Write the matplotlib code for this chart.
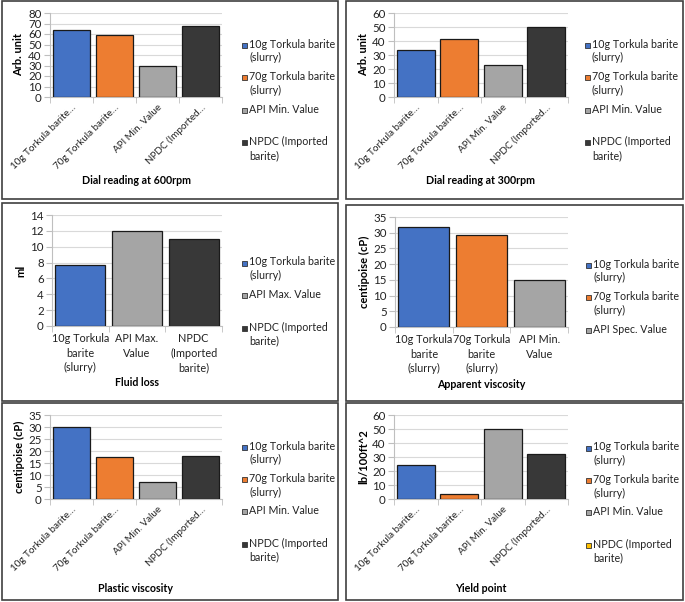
import matplotlib
matplotlib.use("Agg")
import matplotlib.pyplot as plt
from matplotlib.patches import Rectangle
import numpy as np

plt.rcParams['font.family'] = ['Lato', 'DejaVu Sans']

W, H = 685, 602

# ---------------- data ----------------
c_blue = '#4472C4'
c_orange = '#ED7D31'
c_gray = '#A5A5A5'
c_dark = '#383838'
c_yellow = '#FFC000'

p1_ticks = ['10g Torkula barite…', '70g Torkula barite…', 'API Min. Value', 'NPDC (Imported…']
p1_vals = [63.5, 59, 30, 68]
p1_legend = ['10g Torkula barite\n(slurry)', '70g Torkula barite\n(slurry)', 'API Min. Value', 'NPDC (Imported\nbarite)']

p2_ticks = ['10g Torkula barite…', '70g Torkula barite…', 'API Min. Value', 'NPDC (Imported…']
p2_vals = [33.5, 41.5, 23, 50]
p2_legend = ['10g Torkula barite\n(slurry)', '70g Torkula barite\n(slurry)', 'API Min. Value', 'NPDC (Imported\nbarite)']

p3_ticks = ['10g Torkula\nbarite\n(slurry)', 'API Max.\nValue', 'NPDC\n(Imported\nbarite)']
p3_vals = [7.7, 12, 11]
p3_legend = ['10g Torkula barite\n(slurry)', 'API Max. Value', 'NPDC (Imported\nbarite)']

p4_ticks = ['10g Torkula\nbarite\n(slurry)', '70g Torkula\nbarite\n(slurry)', 'API Min.\nValue']
p4_vals = [31.7, 29.4, 15]
p4_legend = ['10g Torkula barite\n(slurry)', '70g Torkula barite\n(slurry)', 'API Spec. Value']

p5_ticks = ['10g Torkula barite…', '70g Torkula barite…', 'API Min. Value', 'NPDC (Imported…']
p5_vals = [30, 17.5, 7, 18]
p5_legend = ['10g Torkula barite\n(slurry)', '70g Torkula barite\n(slurry)', 'API Min. Value', 'NPDC (Imported\nbarite)']

p6_ticks = ['10g Torkula barite…', '70g Torkula barite…', 'API Min. Value', 'NPDC (Imported…']
p6_vals = [24, 3.5, 50, 32]
p6_legend = ['10g Torkula barite\n(slurry)', '70g Torkula barite\n(slurry)', 'API Min. Value', 'NPDC (Imported\nbarite)']

fig = plt.figure(figsize=(W / 100, H / 100), dpi=100)


def fx(x):
    return x / W


def fy(y):
    return 1 - y / H


def add_panel(box, axbox, vals, ticks, colors, legcolors, legend, ymax, ystep,
              ylabel, xlabel, rotated, leg_x, leg_y0, leg_dy, xlabel_y, ylabel_x):
    # panel frame
    x0, y0, x1, y1 = box
    fig.add_artist(Rectangle((fx(x0), fy(y1)), fx(x1) - fx(x0), fy(y0) - fy(y1),
                             transform=fig.transFigure, fill=False,
                             edgecolor='#404040', lw=1.2))
    l, t, r, b = axbox
    ax = fig.add_axes([fx(l), fy(b), fx(r) - fx(l), fy(t) - fy(b)])
    n = len(vals)
    x = np.arange(n)
    ax.bar(x, vals, width=0.88, color=colors, edgecolor='#1a1a1a', linewidth=0.9, zorder=3)
    ax.set_xlim(-0.5, n - 0.5)
    ax.set_ylim(0, ymax)
    ax.set_yticks(np.arange(0, ymax + 0.001, ystep))
    ax.yaxis.grid(True, color='#D9D9D9', lw=0.8, zorder=0)
    for s in ['top', 'right']:
        ax.spines[s].set_visible(False)
    ax.spines['left'].set_color('#BFBFBF')
    ax.spines['bottom'].set_color('#BFBFBF')
    ax.tick_params(axis='y', labelsize=8.3, length=4, color='#BFBFBF', pad=2, labelcolor='#222222')
    ax.set_xticks(x)
    ax.set_xticks(np.arange(-0.5, n, 1.0), minor=True)
    ax.tick_params(axis='x', which='major', length=0, labelcolor='#222222')
    ax.tick_params(axis='x', which='minor', length=4, color='#BFBFBF')
    if rotated:
        ax.set_xticklabels(ticks, rotation=45, ha='right', va='top', rotation_mode='anchor',
                           fontsize=7.1)
        ax.tick_params(axis='x', which='major', pad=4)
    else:
        ax.set_xticklabels(ticks, linespacing=1.4, fontsize=7.8)
        ax.tick_params(axis='x', which='major', pad=5)
    ax.set_xlabel(xlabel, fontsize=7.7, fontweight='bold')
    ax.xaxis.set_label_coords(fx((l + r) / 2), fy(xlabel_y), transform=fig.transFigure)
    ax.set_ylabel(ylabel, fontsize=8, fontweight='bold')
    ax.yaxis.set_label_coords(fx(ylabel_x), fy((t + b) / 2), transform=fig.transFigure)
    ax.xaxis.label.set_va('center')
    ax.yaxis.label.set_va('center')
    # legend entries
    for i, (lab, c) in enumerate(zip(legend, legcolors)):
        yc = leg_y0 + i * leg_dy
        fig.add_artist(Rectangle((fx(leg_x), fy(yc + 2.5)), fx(5), 5 / H,
                                 transform=fig.transFigure, facecolor=c,
                                 edgecolor='#333333', lw=0.6))
        fig.text(fx(leg_x + 7), fy(yc - 6.5), lab, fontsize=7.7, va='top', ha='left',
                 linespacing=1.32, color='#222222')
    return ax


four = [c_blue, c_orange, c_gray, c_dark]

add_panel((2, 1, 338, 199), (50, 13, 222, 97), p1_vals, p1_ticks, four, four, p1_legend,
          80, 10, 'Arb. unit', 'Dial reading at 600rpm', True, 242, 45, 32.6, 180, 19)
add_panel((346, 1, 683, 199), (394, 13, 568, 97), p2_vals, p2_ticks, four, four, p2_legend,
          60, 10, 'Arb. unit', 'Dial reading at 300rpm', True, 585, 45, 32.6, 181, 364)
add_panel((2, 203, 338, 401), (52, 215, 222, 326), p3_vals, p3_ticks,
          [c_blue, c_gray, c_dark], [c_blue, c_gray, c_dark], p3_legend,
          14, 2, 'ml', 'Fluid loss', False, 242, 263, 32.5, 382, 21)
add_panel((346, 205, 683, 401), (395, 217, 568, 327), p4_vals, p4_ticks,
          [c_blue, c_orange, c_gray], [c_blue, c_orange, c_gray], p4_legend,
          35, 5, 'centipoise (cP)', 'Apparent viscosity', False, 586, 265, 32.5, 384, 364)
add_panel((2, 403, 338, 600), (50, 415, 222, 499), p5_vals, p5_ticks, four, four, p5_legend,
          35, 5, 'centipoise (cP)', 'Plastic viscosity', True, 242, 447, 32.4, 588, 19)
add_panel((346, 403, 683, 600), (394, 415, 568, 499), p6_vals, p6_ticks, four,
          [c_blue, c_orange, c_gray, c_yellow], p6_legend,
          60, 10, 'lb/100ft^2', 'Yield point', True, 586, 448, 32.4, 588, 364)

fig.savefig('out.png', dpi=100)
